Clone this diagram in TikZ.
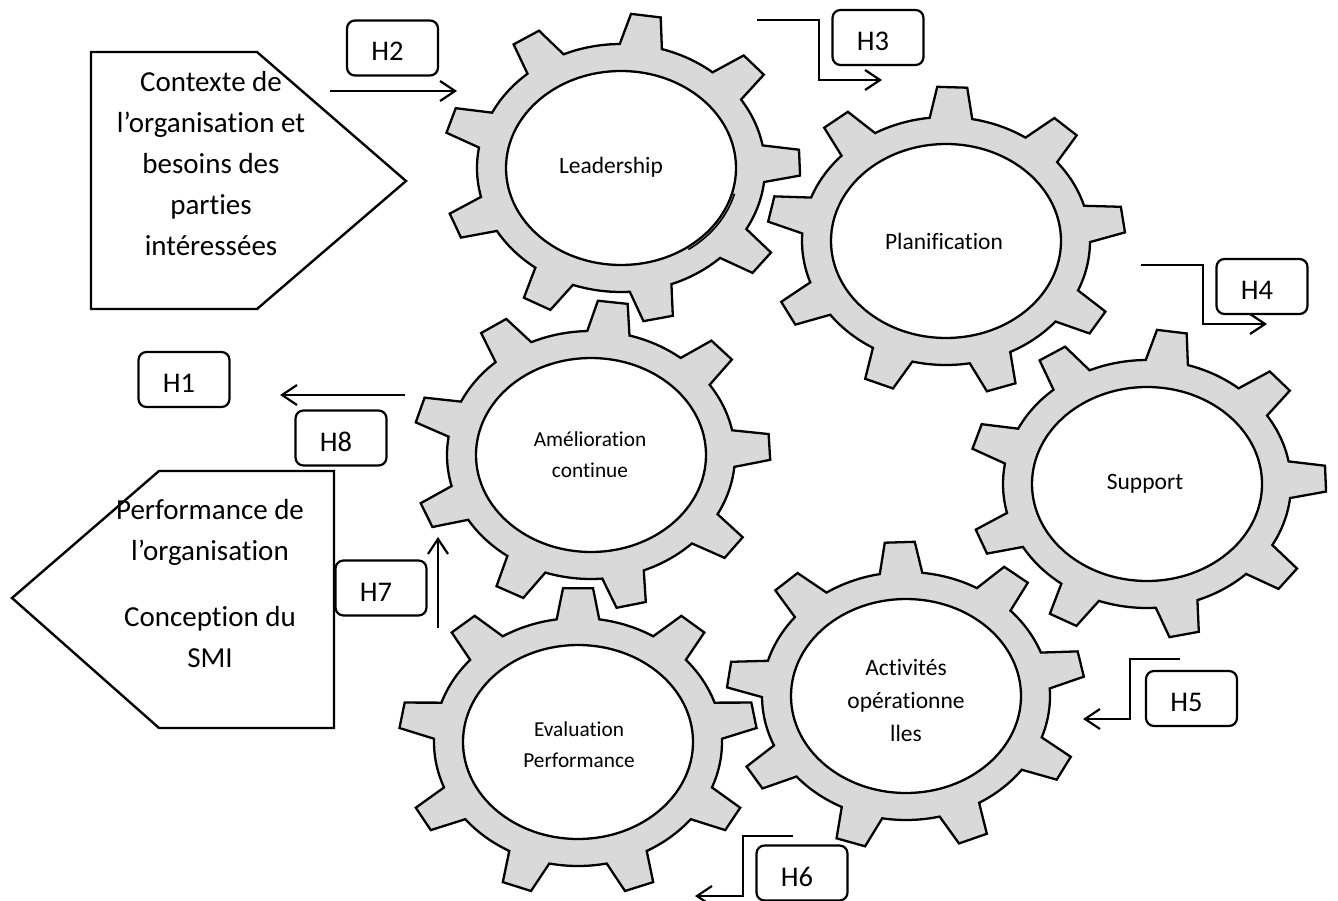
\documentclass[tikz,border=0pt]{standalone}
\usepackage{fontspec}
\setmainfont{Carlito}[Ligatures={NoCommon}]
\usetikzlibrary{arrows.meta}

\tikzset{
  outline/.style={draw=black, line width=2.4pt, line join=miter},
  gearbody/.style={fill=gray!30, draw=black, line width=2.3pt, line join=miter},
  hole/.style={fill=white, draw=black, line width=2.3pt},
  hbox/.style={draw=black, line width=2.2pt, rounded corners=8pt,
    minimum width=91pt, minimum height=55pt, inner sep=0pt,
    text height=26pt, text depth=0pt,
    font=\fontsize{28.5}{34}\selectfont, execute at end node={\kern10pt}},
  flow/.style={line width=2.2pt, line join=miter,
    -{Straight Barb[length=15pt,width=20pt]}},
  bigtext/.style={align=center, font=\fontsize{29}{41}\selectfont},
  gearlabel/.style={align=center, font=\fontsize{23.5}{33}\selectfont},
  gearsmall/.style={align=center, font=\fontsize{21.3}{31}\selectfont},
}

% gear wheel with nine teeth: centre x, centre y, angular offset of the teeth
\newcommand\gearwheel[3]{%
  \begin{scope}[shift={(#1,#2)}, xscale=1.44, yscale=1.24]
    \filldraw[gearbody] ({#3-20}:100)
      \foreach \k in {0,...,8}{
        arc[start angle={#3+40*\k-20}, end angle={#3+40*\k-8.5}, radius=100]
        -- ({#3+40*\k-4.8}:124.5) -- ({#3+40*\k+4.8}:124.5)
        -- ({#3+40*\k+8.5}:100)
        arc[start angle={#3+40*\k+8.5}, end angle={#3+40*\k+20}, radius=100]
      } -- cycle;
  \end{scope}
  \filldraw[hole] (#1,#2) ellipse[x radius=115, y radius=97];
}

\begin{document}
\begin{tikzpicture}[x=1pt, y=1pt]
\begin{scope}[yscale=-1]
  \useasboundingbox (0,0) rectangle (1338,901);

  % input and output blocks
  \draw[outline] (91,52) -- (257,52) -- (406,181) -- (257,309) -- (91,309) -- cycle;
  \node[bigtext] (ctx) at (211,164)
    {Contexte de\\l’organisation et\\besoins des\\parties\\intéressées};

  \draw[outline] (12,598) -- (159,471) -- (334,471) -- (334,728) -- (159,728) -- cycle;
  \node[bigtext] (perf) at (210,532) {Performance de\\l’organisation};
  \node[bigtext] (smi) at (210,637) {Conception du\\SMI};

  % the six gears of the management system
  \gearwheel{621}{168}{-2}
  \draw[line width=1.6pt] (621,168) ++(15:117.5 and 99.5)
    arc[start angle=15, end angle=55, x radius=117.5, y radius=99.5];
  \node[gearlabel] (lead) at (611,167) {Leadership};

  \gearwheel{946}{241}{-8}
  \node[gearlabel] (plan) at (944,241) {Planification};

  \gearwheel{1147}{484}{-2}
  \node[gearlabel] (supp) at (1145,484) {Support};

  \gearwheel{591}{455}{-3}
  \node[gearsmall] (amel) at (590,455) {Amélioration\\continue};

  \gearwheel{578}{742}{-10}
  \node[gearsmall] (eval) at (579,745) {Evaluation\\Performance};

  \gearwheel{906}{696}{-12}
  \node[gearlabel] (oper) at (906,700) {Activités\\opérationne\\lles};

  % hypothesis labels
  \node[hbox] (h1) at (184,379.5) {H1};
  \node[hbox] (h2) at (392.5,48) {H2};
  \node[hbox] (h3) at (878,37.5) {H3};
  \node[hbox] (h4) at (1262,286.5) {H4};
  \node[hbox] (h5) at (1191.5,698.5) {H5};
  \node[hbox] (h6) at (802,873) {H6};
  \node[hbox] (h7) at (381,588) {H7};
  \node[hbox] (h8) at (341,438) {H8};

  % flow arrows
  \coordinate (a2s) at (330,91);   \coordinate (a2e) at (457,91);
  \draw[flow] (a2s) -- (a2e);

  \coordinate (a3s) at (757,20);   \coordinate (a3k) at (819,80);
  \coordinate (a3e) at (882,80);
  \draw[flow] (a3s) -| (a3k) -- (a3e);

  \coordinate (a4s) at (1141,265); \coordinate (a4k) at (1203,324);
  \coordinate (a4e) at (1267,324);
  \draw[flow] (a4s) -| (a4k) -- (a4e);

  \coordinate (a5s) at (1180,659); \coordinate (a5k) at (1130,719);
  \coordinate (a5e) at (1083,719);
  \draw[flow] (a5s) -| (a5k) -- (a5e);

  \coordinate (a6s) at (793,836);  \coordinate (a6k) at (743,896);
  \coordinate (a6e) at (695,896);
  \draw[flow] (a6s) -| (a6k) -- (a6e);

  \coordinate (a7s) at (438,628);  \coordinate (a7e) at (438,537);
  \draw[flow] (a7s) -- (a7e);

  \coordinate (a1s) at (405,395);  \coordinate (a1e) at (280,395);
  \draw[flow] (a1s) -- (a1e);
\end{scope}
\end{tikzpicture}
\end{document}
